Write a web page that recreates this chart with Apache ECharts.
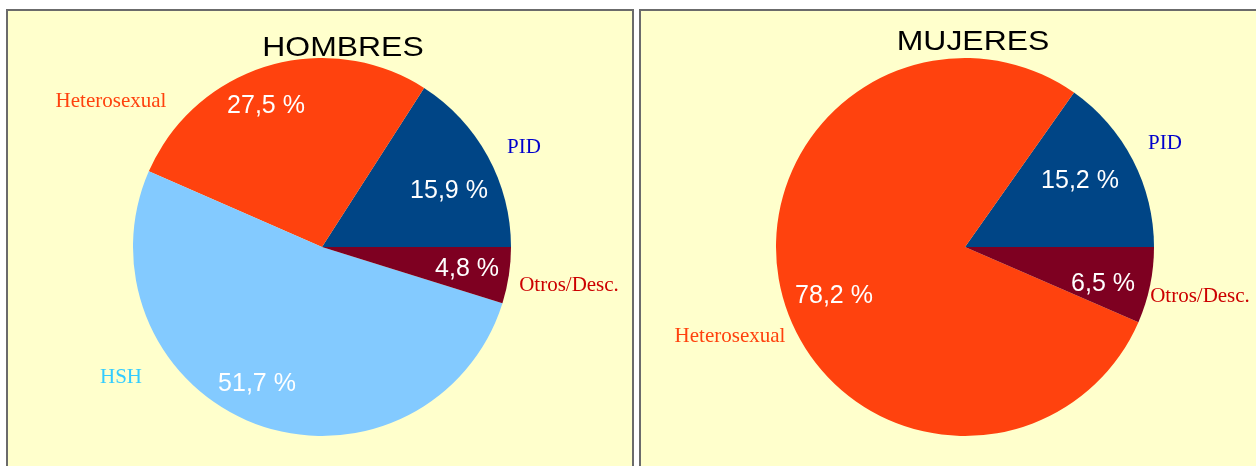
<!DOCTYPE html>
<html lang="es">

<head>
    <meta charset="UTF-8">
    <title>HOMBRES / MUJERES</title>
    <script src="https://cdnjs.cloudflare.com/ajax/libs/echarts/6.0.0/echarts.min.js"></script>
    <style>
        body { margin: 0; background: #fff; }
    </style>
</head>

<body>
    <div id="main" style="width: 1256px;height:466px;"></div>
    <script>
        // datos
        const menNames = ["PID", "Heterosexual", "HSH", "Otros/Desc."];
        const menValues = [15.9, 27.5, 51.7, 4.8];
        const womenNames = ["PID", "Heterosexual", "Otros/Desc."];
        const womenValues = [15.2, 78.2, 6.5];

        // colores por categoría
        const sliceColor = { "PID": "#004586", "Heterosexual": "#FF420E", "HSH": "#83CAFF", "Otros/Desc.": "#7E0021" };
        const nameColor = { "PID": "#0000CC", "Heterosexual": "#FF420E", "HSH": "#33CCFF", "Otros/Desc.": "#CC0000" };

        // posición de las etiquetas respecto al centro de cada torta
        const menInner = [[127, -56], [-56, -141], [-65, 137], [145, 22]];
        const menOuter = [[202, -100], [-211, -146], [-201, 130], [247, 38]];
        const womenInner = [[115, -66], [-131, 49], [138, 37]];
        const womenOuter = [[200, -104], [-235, 89], [235, 49]];

        const chart = echarts.init(document.getElementById('main'));

        function fmt(v) {
            return v.toFixed(1).replace('.', ',') + ' %';
        }

        function pieSeries(names, values, center, inner, outer) {
            const data = names.map((n, i) => ({ name: n, value: values[i], itemStyle: { color: sliceColor[n] } }));
            const ghost = names.map((n, i) => ({
                name: n, value: values[i],
                itemStyle: { color: 'rgba(0,0,0,0)' },
                label: { color: nameColor[n] }
            }));
            const base = {
                type: 'pie',
                center: center,
                radius: [0, 189],
                startAngle: 0,
                clockwise: false,
                animation: false,
                avoidLabelOverlap: false,
                labelLine: { show: false },
                emphasis: { disabled: true }
            };
            return [
                Object.assign({}, base, {
                    data: data,
                    label: {
                        show: true, position: 'inside',
                        formatter: (p) => fmt(p.value),
                        color: '#fff', fontSize: 25, fontFamily: 'Liberation Sans'
                    },
                    labelLayout: (p) => ({
                        x: center[0] + inner[p.dataIndex][0],
                        y: center[1] + inner[p.dataIndex][1],
                        align: 'center', verticalAlign: 'middle'
                    })
                }),
                Object.assign({}, base, {
                    data: ghost,
                    silent: true,
                    z: 3,
                    label: {
                        show: true, position: 'inside',
                        formatter: '{b}',
                        fontSize: 21, fontFamily: 'Liberation Serif'
                    },
                    labelLayout: (p) => ({
                        x: center[0] + outer[p.dataIndex][0],
                        y: center[1] + outer[p.dataIndex][1],
                        align: 'center', verticalAlign: 'middle'
                    })
                })
            ];
        }

        const leftCenter = [322, 247];
        const rightCenter = [965, 247];

        // títulos algo más anchos que la fuente normal
        function titleText(text, x, y) {
            return {
                type: 'text', x: x, y: y, scaleX: 1.14, z: 10,
                style: { text: text, fontSize: 28, fontFamily: 'Liberation Sans', fill: '#000', textAlign: 'center', textVerticalAlign: 'middle' }
            };
        }

        let option = {
            backgroundColor: '#ffffff',
            graphic: [
                { type: 'rect', z: -10, shape: { x: 7, y: 10, width: 626, height: 500 }, style: { fill: '#FFFFCC', stroke: '#6b6b6b', lineWidth: 2 } },
                { type: 'rect', z: -10, shape: { x: 640, y: 10, width: 700, height: 500 }, style: { fill: '#FFFFCC', stroke: '#6b6b6b', lineWidth: 2 } },
                titleText('HOMBRES', 343, 48),
                titleText('MUJERES', 973, 42)
            ],
            series: [].concat(
                pieSeries(menNames, menValues, leftCenter, menInner, menOuter),
                pieSeries(womenNames, womenValues, rightCenter, womenInner, womenOuter)
            )
        };

        chart.setOption(option);
    </script>
</body>

</html>
